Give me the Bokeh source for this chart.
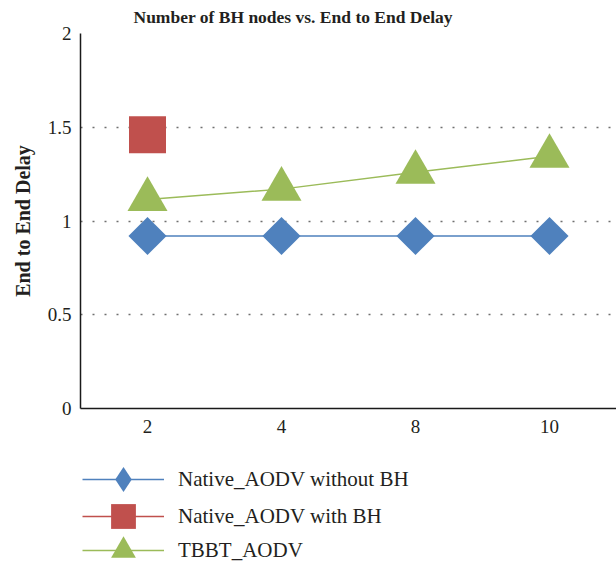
import math
from bokeh.plotting import figure
from bokeh.layouts import column
from bokeh.models import (FactorRange, Range1d, Legend, LegendItem, FixedTicker,
                          CustomJSTickFormatter)
from bokeh.embed import file_html
from bokeh.resources import INLINE

# ---- data ----
x_nodes = ["2", "4", "8", "10"]
native_without_bh = [0.92, 0.92, 0.92, 0.92]
native_with_bh_nodes = ["2"]
native_with_bh = [1.46]
tbbt_aodv = [1.115, 1.17, 1.26, 1.345]
y_ticks = [0, 0.5, 1, 1.5, 2]
series_names = ["Native_AODV without BH", "Native_AODV with BH", "TBBT_AODV"]

BLUE = "#4f81bd"
RED = "#c0504d"
GREEN = "#9bbb59"
SERIF = "Liberation Serif"
TEXT = "#231f20"

p = figure(width=616, height=442,
           x_range=FactorRange(factors=x_nodes), y_range=Range1d(0, 2),
           output_backend="svg", toolbar_location=None,
           min_border_left=80, min_border_top=33, min_border_right=0,
           min_border_bottom=34)
p.outline_line_color = None
p.background_fill_color = "white"
p.border_fill_color = "white"

# title
p.title.text = "Number of BH nodes vs. End to End Delay"
p.title.align = "left"
p.title.offset = 53
p.title.text_font = SERIF
p.title.text_font_size = "17.5px"
p.title.text_font_style = "bold"
p.title.text_color = TEXT
p.title.standoff = 10
p.title.vertical_align = "top"

# axes
for ax in (p.xaxis[0], p.yaxis[0]):
    ax.axis_line_color = "#1a1a1a"
    ax.axis_line_width = 1.5
    ax.major_tick_line_color = None
    ax.minor_tick_line_color = None
    ax.major_tick_out = 0
    ax.major_tick_in = 0
    ax.major_label_text_font = SERIF
    ax.major_label_text_font_size = "19px"
    ax.major_label_text_color = TEXT

p.xaxis.major_label_standoff = 11
p.yaxis.major_label_standoff = 9
p.yaxis.ticker = FixedTicker(ticks=y_ticks)
p.yaxis.formatter = CustomJSTickFormatter(code="return tick.toString()")
p.yaxis.axis_label = "End to End Delay"
p.yaxis.axis_label_text_font = SERIF
p.yaxis.axis_label_text_font_size = "20px"
p.yaxis.axis_label_text_font_style = "bold"
p.yaxis.axis_label_text_color = TEXT
p.yaxis.axis_label_standoff = 11

# grid
p.xgrid.grid_line_color = None
p.ygrid.ticker = FixedTicker(ticks=y_ticks[1:])
p.ygrid.grid_line_color = "#6f6f6f"
p.ygrid.grid_line_width = 1.5
p.ygrid.grid_line_dash = "2 10"

# series
p.line(x_nodes, native_without_bh, line_color=BLUE, line_width=1.5)
p.scatter(x_nodes, native_without_bh, marker="square", angle=math.pi / 4,
          size=27, fill_color=BLUE, line_color=None)

p.line(native_with_bh_nodes, native_with_bh, line_color=RED, line_width=1.5)
p.scatter(native_with_bh_nodes, native_with_bh, marker="square",
          size=37, fill_color=RED, line_color=None)

p.line(x_nodes, tbbt_aodv, line_color=GREEN, line_width=1.5)
p.scatter(x_nodes, tbbt_aodv, marker="triangle", size=40,
          fill_color=GREEN, line_color=None)

# ---- legend panel: a figure that only shows the legend
# (its series are drawn outside its visible y range, so only the legend swatches show)
leg_fig = figure(width=616, height=121, x_range=FactorRange(factors=x_nodes),
                 y_range=Range1d(10, 11),
                 x_axis_type=None, y_axis_type=None,
                 output_backend="svg", toolbar_location=None, min_border=0)
leg_fig.outline_line_color = None
leg_fig.grid.visible = False

legend_specs = [
    (series_names[0], x_nodes, native_without_bh, BLUE, "diamond", 53),
    (series_names[1], native_with_bh_nodes, native_with_bh, RED, "square", 16),
    (series_names[2], x_nodes, tbbt_aodv, GREEN, "triangle", -18),
]
for label, xs, ys, color, marker, vy in legend_specs:
    ln = leg_fig.line(xs, ys, line_color=color, line_width=1.5)
    mk = leg_fig.scatter(xs, ys, marker=marker, size=10,
                         fill_color=color, line_color=None)
    leg = Legend(items=[LegendItem(label=label, renderers=[ln, mk])],
                 location=(2, vy), padding=0, margin=0, spacing=0,
                 glyph_width=82, glyph_height=62, label_height=62,
                 label_standoff=14,
                 label_text_font=SERIF, label_text_font_size="21px",
                 label_text_color=TEXT,
                 border_line_color=None, background_fill_alpha=0)
    leg_fig.add_layout(leg, "center")

layout = column(p, leg_fig, spacing=0)
open("out.html", "w").write(file_html(layout, INLINE))
